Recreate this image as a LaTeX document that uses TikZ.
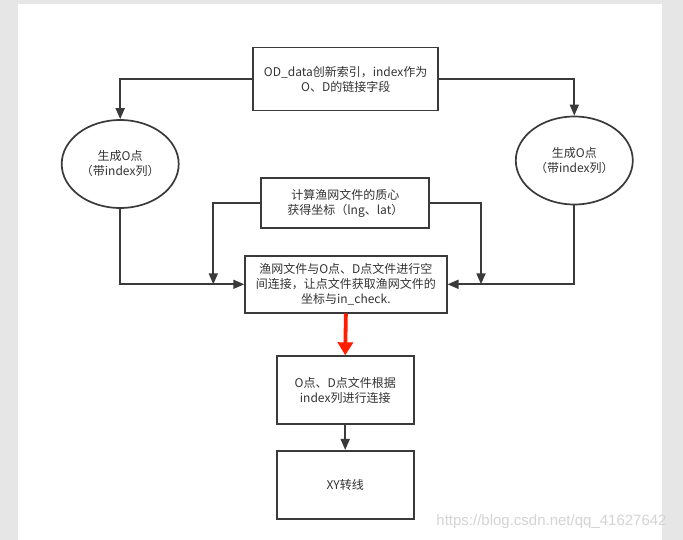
\documentclass[tikz,border=0pt]{standalone}
\usepackage{fontspec}
\setmainfont{Noto Sans CJK SC}
\newfontfamily\wmfont{Liberation Sans}
\usetikzlibrary{arrows.meta, shapes.geometric}
\definecolor{cline}{HTML}{3A3A3A}
\definecolor{ctext}{HTML}{333333}
\definecolor{cred}{HTML}{FF1E00}
\definecolor{cpage}{HTML}{E6E6E6}
\definecolor{cmark}{HTML}{D4D4D4}
\tikzset{
  every picture/.style={line width=1.7pt},
  box/.style={draw=cline, text=ctext, align=center, inner sep=2pt, font=\fontsize{12}{15}\selectfont},
  oval/.style={box, ellipse, minimum width=117pt, minimum height=88pt},
  arrow/.style={-{Triangle[length=11pt, width=9pt]}, draw=cline},
  hot/.style={-{Triangle[length=13pt, width=15pt]}, draw=cred, line width=3.8pt},
  wmark/.style={text=cmark, font=\wmfont\fontsize{15}{17}\selectfont},
}

\begin{document}
\begin{tikzpicture}[x=1pt, y=-1pt, b/.style={box, minimum width=#1}]
  \fill[cpage] (0,0) rectangle (683,540);
  \fill[white] (18,4) rectangle (662,540);
  \useasboundingbox (0,0) rectangle (683,540);
  \node[b=185pt, minimum height=63pt] (top) at (345.7,79) {OD\_data创新索引，index作为\\O、D的链接字段};
  \node[oval] (oL) at (120.2,164) {生成O点\\（带index列）};
  \node[oval] (oR) at (574.3,160.5) {生成O点\\（带index列）};
  \node[b=168pt, minimum height=50pt] (cen) at (345.3,203.3) {计算渔网文件的质心\\获得坐标（lng、lat）};
  \node[b=201.6pt, minimum height=56.7pt] (join) at (345.9,284.3) {渔网文件与O点、D点文件进行空\\间连接，让点文件获取渔网文件的\\坐标与in\_check.};
  \node[b=137pt, minimum height=68pt] (od) at (345.2,390.2) {O点、D点文件根据\\index列进行连接};
  \node[b=137pt, minimum height=68pt] (xy) at (345.2,484.8) {XY转线};
  \coordinate (cl) at (213.3,284.3);
  \coordinate (cr) at (481,284.3);
  \draw[arrow] (top.west) -| (oL.north);
  \draw[arrow] (top.east) -| (oR.north);
  \draw[arrow] (oL.south) |- (join.west);
  \draw[arrow] (oR.south) |- (join.east);
  \draw[arrow] (cen.west) -| (cl);
  \draw[arrow] (cen.east) -| (cr);
  \draw[hot] (join.south) -- (od.north);
  \draw[arrow] (od.south) -- (xy.north);
  \node[wmark] (wm) at (551.5,522) {https://blog.csdn.net/qq\_41627642};
\end{tikzpicture}
\end{document}
